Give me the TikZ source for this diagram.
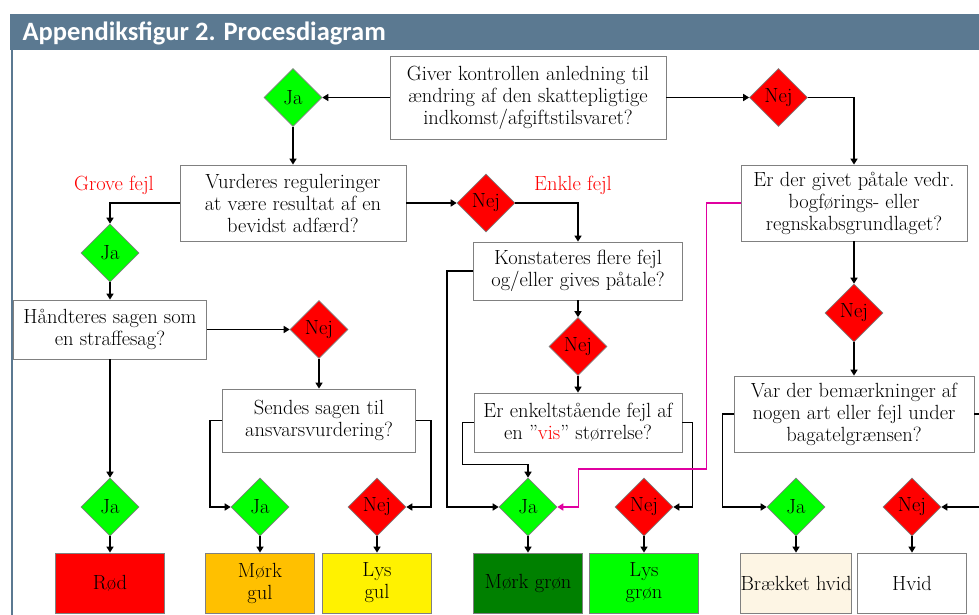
\documentclass[tikz,border=0pt]{standalone}
\usepackage{fontspec}
\newfontfamily\headfont{Carlito}
\usetikzlibrary{shapes.geometric, arrows.meta}

\definecolor{headblue}{RGB}{91,121,145}
\definecolor{jagreen}{RGB}{0,255,0}
\definecolor{mgul}{RGB}{255,192,0}
\definecolor{mgron}{RGB}{0,128,0}
\definecolor{bhvid}{RGB}{253,245,228}
\definecolor{pinkline}{RGB}{224,0,160}

\begin{document}
\begin{tikzpicture}[x=1pt, y=-1pt,
        font=\fontsize{20.5}{22}\selectfont,
        qbox/.style={draw=gray, fill=white, line width=0.8pt, align=center, inner sep=0pt},
        dia/.style={diamond, draw=gray, line width=0.6pt, minimum width=58pt, minimum height=58pt, inner sep=0pt},
        res/.style={draw=gray, line width=0.8pt, minimum width=109pt, minimum height=60pt, align=center, inner sep=0pt},
        conn/.style={line width=1.6pt, -{Triangle[length=6pt, width=7pt]}}]
        \clip (0,0) rectangle (979,615);
        % header
        \fill [headblue] (10,14) rectangle (990,50);
        \draw [headblue, line width=2pt] (12,50) -- (12,620);
        \node [anchor=west, text=white, font=\headfont\bfseries\fontsize{26.5}{30}\selectfont] (title) at (19,33) {Appendiksfigur 2. Procesdiagram};
        % questions
        \node [qbox, minimum width=276, minimum height=83] (q1) at (528,97.5) {Giver kontrollen anledning til\\ændring af den skattepligtige\\indkomst/afgiftstilsvaret?};
        \node [qbox, minimum width=226, minimum height=76] (q2) at (293,203) {Vurderes reguleringer\\at være resultat af en\\bevidst adfærd?};
        \node [qbox, minimum width=193, minimum height=59] (q3) at (110,329.5) {Håndteres sagen som\\en straffesag?};
        \node [qbox, minimum width=226, minimum height=76] (q4) at (854,203) {Er der givet påtale vedr.\\bogførings- eller\\regnskabsgrundlaget?};
        \node [qbox, minimum width=209, minimum height=58] (q5) at (578,271) {Konstateres flere fejl\\og/eller gives påtale?};
        \node [qbox, minimum width=208, minimum height=59] (q6) at (578,422.5) {Er enkeltstående fejl af\\en ”\textcolor{red}{vis}” størrelse?};
        \node [qbox, minimum width=193, minimum height=63] (q7) at (319,420.5) {Sendes sagen til\\ansvarsvurdering?};
        \node [qbox, minimum width=240, minimum height=76] (q8) at (854,414) {Var der bemærkninger af\\nogen art eller fejl under\\bagatelgrænsen?};
        \node [text=red] (grove) at (114,185) {Grove fejl};
        \node [text=red] (enkle) at (573,185) {Enkle fejl};
        % decisions
        \node [dia, fill=jagreen] (ja1) at (293,97.5) {Ja};
        \node [dia, fill=red] (nej1) at (778.5,97.5) {Nej};
        \node [dia, fill=jagreen] (ja2) at (110,253) {Ja};
        \node [dia, fill=red] (nej2) at (319,329.5) {Nej};
        \node [dia, fill=red] (nej3) at (486,203) {Nej};
        \node [dia, fill=red] (nej4) at (578,346.5) {Nej};
        \node [dia, fill=red] (nej6) at (854,313) {Nej};
        % outcomes
        \foreach \d/\x/\dc/\dt/\rc/\rt in {jaR/110/jagreen/Ja/red/Rød,
            jaMG/260/jagreen/Ja/mgul/{Mørk\\gul},
            nejLG/377/red/Nej/yellow/{Lys\\gul},
            jaG/528/jagreen/Ja/mgron/{Mørk grøn},
            nejLGr/644/red/Nej/jagreen/{Lys\\grøn},
            jaBH/796/jagreen/Ja/bhvid/{Brækket hvid},
            nejH/912/red/Nej/white/Hvid}
        {
            \node [dia, fill=\dc] (\d) at (\x,507) {\dt};
            \node [res, fill=\rc] (\d-res) at (\x,583) {\rt};
            \draw [conn] (\d) -- (\d-res);
        }
        % connectors
        \draw [conn] (q1.west) -- (ja1.east);
        \draw [conn] (q1.east) -- (nej1.west);
        \draw [conn] (nej1.east) -| (q4.north);
        \draw [conn] (ja1.south) -- (q2.north);
        \draw [conn] (q2.west) -| (ja2.north);
        \draw [conn] (q2.east) -- (nej3.west);
        \draw [conn] (nej3.east) -| (q5.north);
        \draw [conn] (ja2.south) -- (q3.north);
        \draw [conn] (q3.east) -- (nej2.west);
        \draw [conn] (nej2.south) -- (q7.north);
        \draw [conn] (q3.south) -- (jaR.north);
        \draw [conn] (q7.west) -- ++(-12,0) |- (jaMG.west);
        \draw [conn] (q7.east) -- ++(15,0) |- (nejLG.east);
        \draw [conn] (q5.west) -- ++(-26,0) |- (jaG.west);
        \draw [conn] (q5.south) -- (nej4.north);
        \draw [conn] (nej4.south) -- (q6.north);
        \draw [conn] (q6.west) -- ++(-11,0) -- ++(0,42) -| (jaG.north);
        \draw [conn] (q6.east) -- ++(10,0) |- (nejLGr.east);
        \draw [conn, pinkline] (q4.west) -- ++(-34,0) -- ++(0,266) -- ++(-128,0) |- (jaG.east);
        \draw [conn] (q4.south) -- (nej6.north);
        \draw [conn] (nej6.south) -- (q8.north);
        \draw [conn] (q8.west) -- ++(-11,0) |- (jaBH.west);
        \draw [conn] (q8.east) -- ++(25,0) |- (nejH.east);
    \end{tikzpicture}
\end{document}
